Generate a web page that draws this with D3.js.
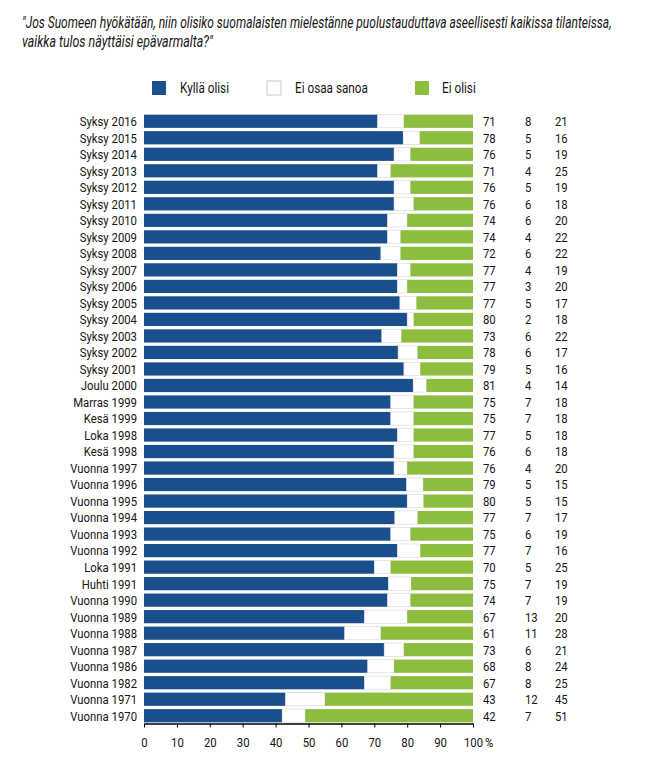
<!DOCTYPE html>
<html>
<head>
<meta charset="utf-8">
<script src="https://cdn.jsdelivr.net/npm/d3@7"></script>
<style>
  html, body { margin: 0; padding: 0; background: #fff; }
  svg { display: block; }
  text { font-family: Roboto, "Noto Sans", sans-serif; fill: #151515; }
</style>
</head>
<body>
<svg id="chart" width="652" height="776"></svg>
<script>
const titleLines = [
  "\"Jos Suomeen hyökätään, niin olisiko suomalaisten mielestänne puolustauduttava aseellisesti kaikissa tilanteissa,",
  "vaikka tulos näyttäisi epävarmalta?\""
];
const seriesNames = ["Kyllä olisi", "Ei osaa sanoa", "Ei olisi"];
const categories = [
  "Syksy 2016","Syksy 2015","Syksy 2014","Syksy 2013","Syksy 2012","Syksy 2011","Syksy 2010","Syksy 2009",
  "Syksy 2008","Syksy 2007","Syksy 2006","Syksy 2005","Syksy 2004","Syksy 2003","Syksy 2002","Syksy 2001",
  "Joulu 2000","Marras 1999","Kesä 1999","Loka 1998","Kesä 1998","Vuonna 1997","Vuonna 1996","Vuonna 1995",
  "Vuonna 1994","Vuonna 1993","Vuonna 1992","Loka 1991","Huhti 1991","Vuonna 1990","Vuonna 1989","Vuonna 1988",
  "Vuonna 1987","Vuonna 1986","Vuonna 1982","Vuonna 1971","Vuonna 1970"
];
const yes = [71,78,76,71,76,76,74,74,72,77,77,77,80,73,78,79,81,75,75,77,76,76,79,80,77,75,77,70,75,74,67,61,73,68,67,43,42];
const dontKnow = [8,5,5,4,5,6,6,4,6,4,3,5,2,6,6,5,4,7,7,5,6,4,5,5,7,6,7,5,7,7,13,11,6,8,8,12,7];
const no = [21,16,19,25,19,18,20,22,22,19,20,17,18,22,17,16,14,18,18,18,18,20,15,15,17,19,16,25,19,19,20,28,21,24,25,45,51];
const xTicks = [0,10,20,30,40,50,60,70,80,90,100];

const colors = ["#1a4e8d", "#ffffff", "#8dbd3f"];
const keys = ["yes", "dk", "no"];
const NARROW = 0.84; // horizontal squeeze to imitate the condensed typeface

const rows = categories.map((c, i) => ({ cat: c, yes: yes[i], dk: dontKnow[i], no: no[i] }));
const stacked = d3.stack().keys(keys).offset(d3.stackOffsetExpand)(rows);

const svg = d3.select("#chart");

// Title: condensed italic look, each line scaled horizontally to the reference width
const titleWidths = [590, 191];
const titleBase = [28, 47];
svg.append("g").selectAll("text").data(titleLines).join("text")
  .attr("font-size", 16).attr("font-style", "italic")
  .text(d => d)
  .each(function (d, i) {
    const w = this.getComputedTextLength();
    const s = w > 0 ? titleWidths[i] / w : 1;
    d3.select(this).attr("transform", `translate(22,${titleBase[i]}) scale(${s},1)`);
  });

const x = d3.scaleLinear().domain([0, 1]).range([144, 473]);
const y = d3.scaleBand().domain(categories).range([113, 724]).paddingInner(0.2).paddingOuter(0.1);

// Legend
const legX = [152, 267, 415];
const leg = svg.append("g").selectAll("g").data(seriesNames).join("g")
  .attr("transform", (d, i) => `translate(${legX[i]},81)`);
leg.append("rect").attr("width", 14).attr("height", 14)
  .attr("fill", (d, i) => colors[i])
  .attr("stroke", (d, i) => i === 1 ? "#cccccc" : "none");
leg.append("text")
  .attr("transform", (d, i) => `translate(${[28, 28, 27][i]},12) scale(${NARROW},1)`)
  .attr("font-size", 14).text(d => d);

// Bars
const g = svg.append("g");
stacked.forEach((layer, li) => {
  g.append("g").selectAll("rect").data(layer).join("rect")
    .attr("x", d => x(d[0]))
    .attr("y", d => y(d.data.cat))
    .attr("width", d => x(d[1]) - x(d[0]))
    .attr("height", y.bandwidth())
    .attr("fill", colors[li])
    .attr("stroke", li === 1 ? "#d6d6d6" : "none")
    .attr("stroke-width", 0.6);
});

// Category labels
svg.append("g").selectAll("text").data(categories).join("text")
  .attr("transform", d => `translate(137,${y(d) + y.bandwidth() / 2}) scale(${NARROW},1)`)
  .attr("dy", "0.36em").attr("text-anchor", "end")
  .attr("font-size", 13.5).text(d => d);

// Value columns
const colX = [483, 525, 555];
[yes, dontKnow, no].forEach((arr, ci) => {
  svg.append("g").selectAll("text").data(arr).join("text")
    .attr("transform", (d, i) => `translate(${colX[ci]},${y(categories[i]) + y.bandwidth() / 2}) scale(${NARROW},1)`)
    .attr("dy", "0.36em").attr("font-size", 13.5).text(d => d);
});

// Axis
const axis = svg.append("g").attr("transform", "translate(0,723.5)")
  .call(d3.axisBottom(x).tickValues(xTicks.map(v => v / 100)).tickFormat(d => Math.round(d * 100)).tickSize(4).tickSizeOuter(0));
axis.select(".domain").attr("stroke", "#000").attr("stroke-width", 1.5);
axis.selectAll(".tick line").attr("stroke", "#000");
axis.selectAll(".tick text").attr("font-size", 13.5).attr("fill", "#151515")
  .attr("font-family", "Roboto, \"Noto Sans\", sans-serif")
  .attr("y", 0).attr("dy", 0)
  .attr("transform", `translate(0,23) scale(${NARROW},1)`);
svg.append("text").attr("transform", `translate(485,746.5) scale(${NARROW},1)`)
  .attr("font-size", 13.5).text("%");
</script>
</body>
</html>
